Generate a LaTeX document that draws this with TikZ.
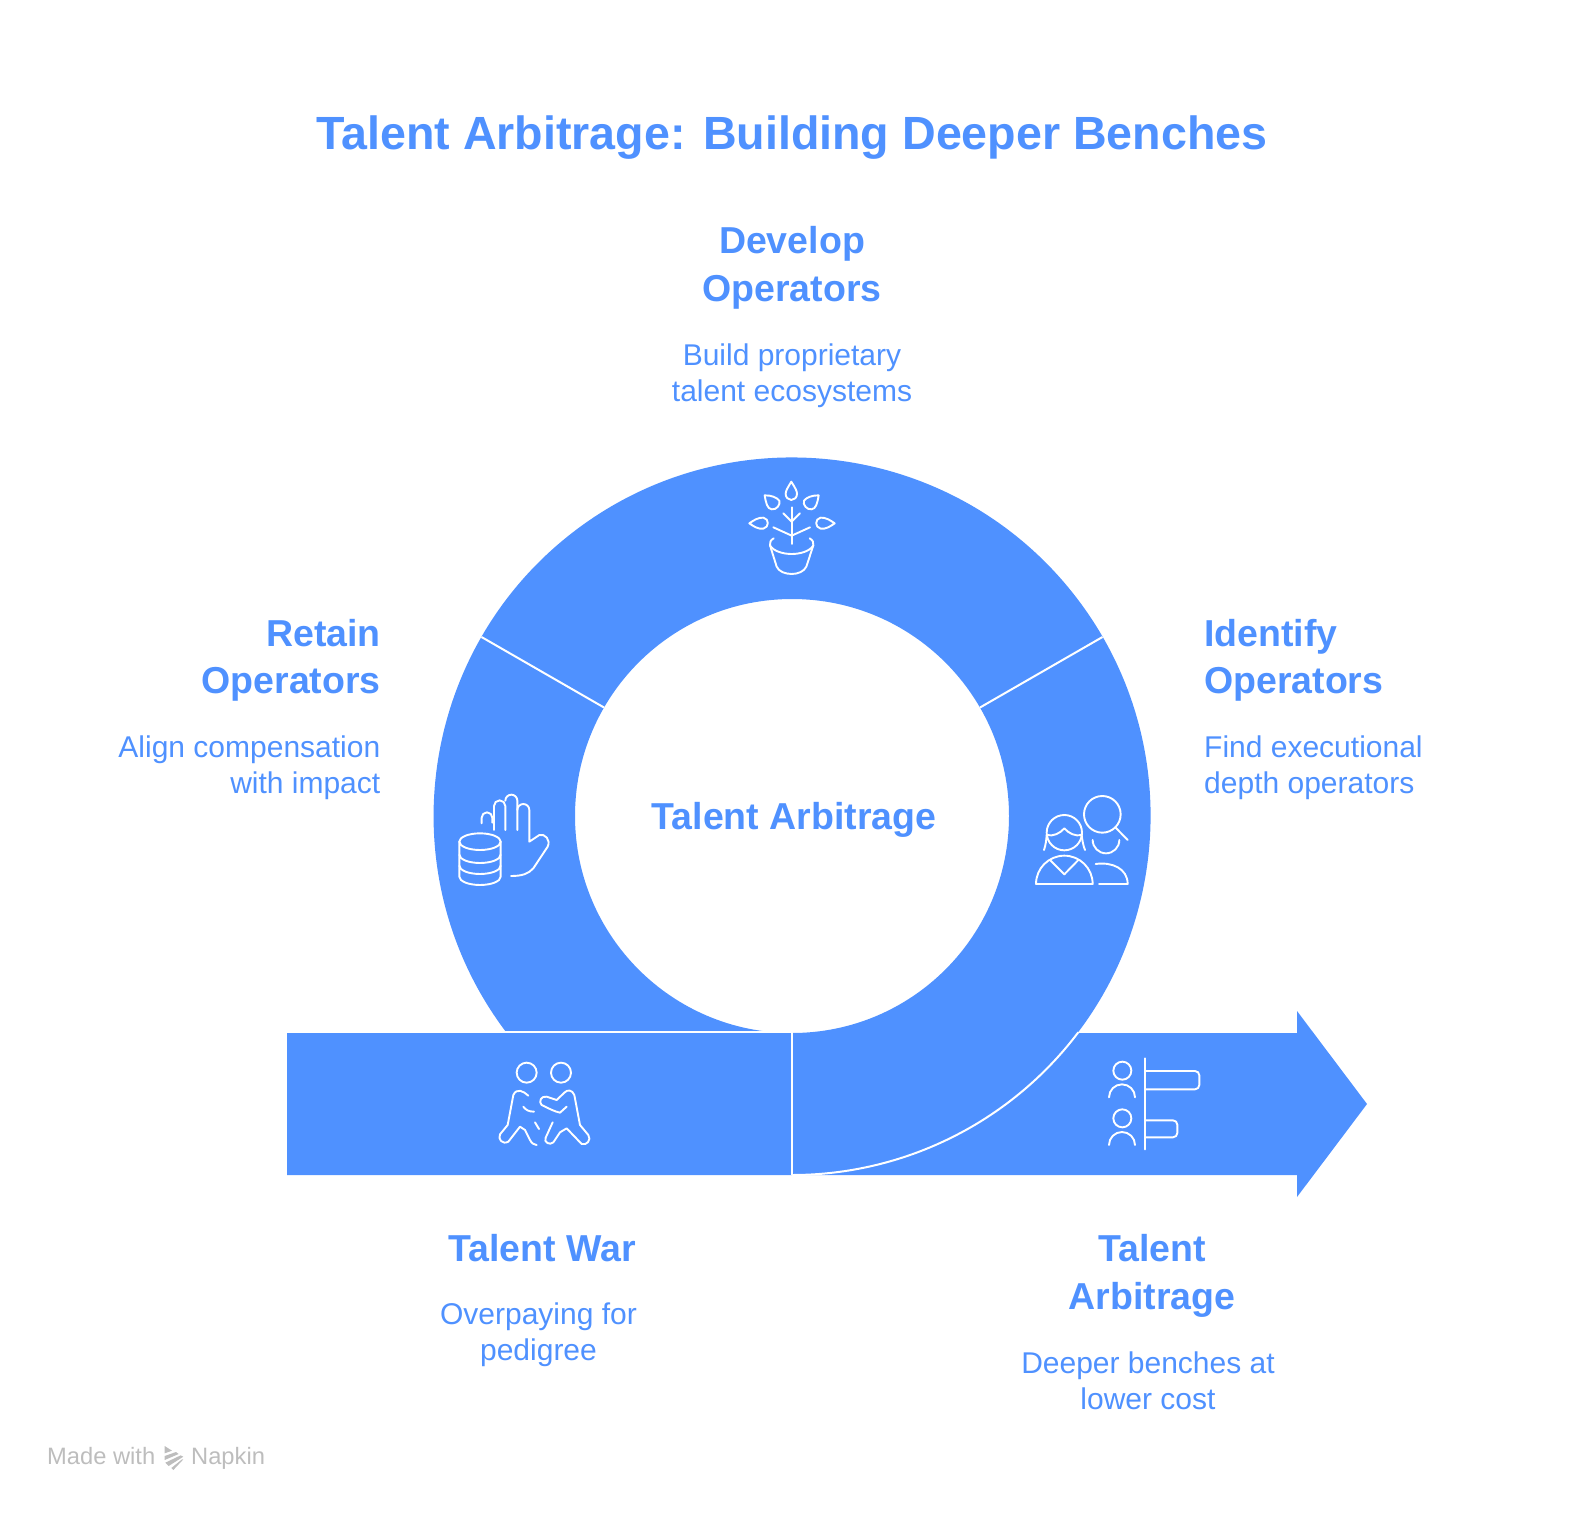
\documentclass[tikz,border=0pt]{standalone}
\usepackage{fontspec}
\setmainfont{Liberation Sans}
\definecolor{napblue}{HTML}{4F91FF}
\definecolor{napgrey}{HTML}{BDBDBD}
\newcommand{\lnst}{\vphantom{Ag}}
\tikzset{
  headtext/.style={text=napblue,inner sep=0pt,font=\fontsize{37.5}{47.5}\selectfont\bfseries},
  desctext/.style={text=napblue,inner sep=0pt,font=\fontsize{30}{36}\selectfont},
  marktext/.style={text=napgrey,inner sep=0pt,anchor=west,font=\fontsize{23.7}{28}\selectfont},
  iconline/.style={draw=white,line width=1.9pt,line cap=round,line join=round},
  divider/.style={draw=white,line width=2pt},
  ico/.style={x=0.3333pt,y=-0.3333pt,iconline},
}
\begin{document}
\begin{tikzpicture}[x=1pt,y=-1pt]
\useasboundingbox (0,0) rectangle (1584,1512);
\coordinate (c) at (792,816);
% ring
\fill[napblue] (506,1032) arc[start angle=142.94,end angle=450,radius=358.5] -- (792,1033) arc[start angle=90,end angle=-270,radius=217] -- cycle;
% bar and arrow
\fill[napblue] (287,1033) -- (1297,1033) -- (1297,1011) -- (1367,1104) -- (1297,1197) -- (1297,1175) -- (287,1175) -- cycle;
% dividers
\draw[divider] (980,707.5) -- (1102.5,637);
\draw[divider] (604,707.5) -- (481.5,637);
\draw[divider] (504,1032) -- (792,1032) -- (792,1175);
\draw[divider] (792,1175) arc[start angle=90,end angle=37,radius=358.5];
% plant
\begin{scope}[shift={(730,470)},ico]
\draw (184,35) .. controls (172,55) and (167,62) .. (167,72) .. controls (167,82) and (175,90) .. (184,90) .. controls (193,90) and (201,82) .. (201,72) .. controls (201,62) and (196,55) .. (184,35) -- cycle;
\draw (104,76) .. controls (125,76) and (140,82) .. (148,92) .. controls (152,104) and (140,120) .. (125,118) .. controls (112,116) and (108,100) .. (104,76) -- cycle;
\draw (266,76) .. controls (245,76) and (230,82) .. (222,92) .. controls (218,104) and (230,120) .. (245,118) .. controls (258,116) and (262,100) .. (266,76) -- cycle;
\draw (58,160) .. controls (72,150) and (85,142) .. (100,143) .. controls (118,146) and (118,172) .. (100,176) .. controls (85,178) and (72,170) .. (58,160) -- cycle;
\draw (314,160) .. controls (300,150) and (287,142) .. (272,143) .. controls (254,146) and (254,172) .. (272,176) .. controls (287,178) and (300,170) .. (314,160) -- cycle;
\draw (185,112) -- (185,222);
\draw (160,130) -- (185,155) -- (210,130);
\draw (130,172) -- (185,197) -- (240,172);
\draw (131,205) .. controls (122,210) and (118,218) .. (120,226) .. controls (130,244) and (160,252) .. (185,252) .. controls (210,252) and (240,244) .. (250,226) .. controls (252,218) and (248,210) .. (239,205);
\draw (120,226) -- (140,290) .. controls (146,304) and (165,312) .. (185,312) .. controls (205,312) and (222,304) .. (229,290) -- (250,226);
\end{scope}
% hand and coins
\begin{scope}[shift={(445,780)},ico]
\draw (110,130) -- (110,113) arc[start angle=180,end angle=360,radius=16] -- (142,128);
\draw (147,150) -- (147,78) arc[start angle=180,end angle=360,radius=17] -- (181,150);
\draw (181,62) arc[start angle=180,end angle=360,radius=18] -- (217,150);
\draw (217,90) arc[start angle=180,end angle=360,radius=18] -- (253,185) -- (283,165) .. controls (300,160) and (318,180) .. (308,200) -- (265,265) .. controls (250,282) and (230,288) .. (198,288);
\draw (105,185) ellipse[x radius=62,y radius=25];
\draw (43,185) -- (43,290) arc[start angle=180,end angle=0,x radius=62,y radius=25] -- (167,185);
\draw (43,224) arc[start angle=180,end angle=0,x radius=62,y radius=25];
\draw (43,257) arc[start angle=180,end angle=0,x radius=62,y radius=25];
\end{scope}
% people and magnifier
\begin{scope}[shift={(1025,780)},ico]
\draw (232,103) circle[radius=55];
\draw (272,143) -- (308,180);
\draw (118,158) circle[radius=53];
\draw (57,210) .. controls (62,195) and (64,180) .. (65,165) .. controls (85,170) and (105,160) .. (118,145) .. controls (131,160) and (151,170) .. (170,165) .. controls (172,180) and (174,195) .. (180,210);
\draw (33,312) arc[start angle=180,end angle=360,radius=85] -- cycle;
\draw (75,240) -- (118,283) -- (160,240);
\draw (203,180) arc[start angle=180,end angle=0,radius=40];
\draw (212,252) .. controls (260,245) and (308,265) .. (308,312) -- (222,312);
\end{scope}
% fighters
\begin{scope}[shift={(485,1045)},ico]
\draw (125,83) circle[radius=30];
\draw (228,83) circle[radius=30];
\draw (130,152) .. controls (115,138) and (95,128) .. (85,150) -- (68,240) -- (45,268) .. controls (38,282) and (52,300) .. (70,290) -- (105,245) -- (120,255) -- (135,285) .. controls (140,295) and (148,300) .. (155,300);
\draw (115,185) .. controls (122,195) and (132,200) .. (147,200);
\draw (150,232) -- (162,252);
\draw (245,185) -- (225,203) .. controls (210,200) and (190,190) .. (170,180) .. controls (160,170) and (168,152) .. (185,155) -- (215,165) -- (238,143) .. controls (248,132) and (262,135) .. (268,150) -- (285,240) -- (310,270) .. controls (320,285) and (305,302) .. (290,297) -- (245,250) -- (225,262) -- (205,292) .. controls (195,302) and (175,292) .. (182,278) -- (203,232);
\end{scope}
% chart
\begin{scope}[shift={(1090,1045)},ico]
\draw (97,77) circle[radius=27];
\draw (57,157) arc[start angle=180,end angle=360,radius=39];
\draw (97,220) circle[radius=27];
\draw (57,300) arc[start angle=180,end angle=360,radius=39];
\draw (165,40) -- (165,313);
\draw (165,78) -- (315,78) arc[start angle=270,end angle=360,radius=13] -- (328,120) arc[start angle=0,end angle=90,radius=13] -- (165,133);
\draw (165,226) -- (249,226) arc[start angle=270,end angle=360,radius=13] -- (262,264) arc[start angle=0,end angle=90,radius=13] -- (165,277);
\end{scope}
% watermark logo
\begin{scope}[shift={(160,1442)},x=0.3333pt,y=-0.3333pt]
\fill[napgrey] (14,12) -- (36,26) -- (14,34) -- cycle;
\fill[napgrey] (14,42) -- (48,30) -- (56,36) -- (14,54) -- cycle;
\fill[napgrey] (16,62) -- (62,40) -- (70,44) -- (26,72) -- cycle;
\fill[napgrey] (34,78) -- (66,52) -- (70,52) -- (40,84) -- cycle;
\end{scope}
% texts
\node[text=napblue,inner sep=0pt,font=\fontsize{46.6}{58}\selectfont\bfseries] (title) at (792,137.5) {Talent Arbitrage: Building Deeper Benches};
\node[headtext,align=center] (h1) at (792,268) {Develop\lnst\\Operators\lnst};
\node[desctext,align=center] (d1) at (792,376) {Build proprietary\lnst\\talent ecosystems\lnst};
\node[headtext,align=right,anchor=east] (h2) at (381,660.5) {Retain\lnst\\Operators\lnst};
\node[desctext,align=right,anchor=east] (d2) at (380.5,768) {Align compensation\lnst\\with impact\lnst};
\node[headtext,align=left,anchor=west] (h3) at (1204,660.5) {Identify\lnst\\Operators\lnst};
\node[desctext,align=left,anchor=west] (d3) at (1204,768) {Find executional\lnst\\depth operators\lnst};
\node[headtext] (center) at (794,819.5) {Talent Arbitrage\lnst};
\node[headtext] (h4) at (542,1252) {Talent War\lnst};
\node[desctext,align=center] (d4) at (538.5,1335) {Overpaying for\lnst\\pedigree\lnst};
\node[headtext,align=center] (h5) at (1152,1276) {Talent\lnst\\Arbitrage\lnst};
\node[desctext,align=center] (d5) at (1148,1384) {Deeper benches at\lnst\\lower cost\lnst};
\node[marktext] (made) at (47,1458.5) {Made with\lnst};
\node[marktext] (napkin) at (191,1458.5) {Napkin\lnst};
\end{tikzpicture}
\end{document}
